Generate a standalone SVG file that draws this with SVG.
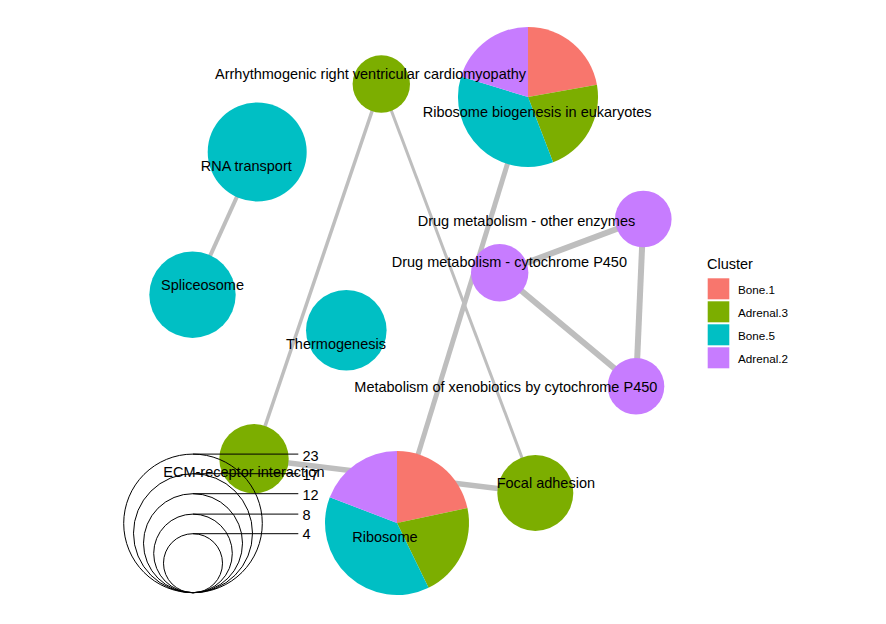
<svg xmlns="http://www.w3.org/2000/svg" width="886" height="624" viewBox="0 0 886 624">
<style>
.e{stroke:#bebebe;fill:none;stroke-linecap:butt}
.lab{font-family:"Liberation Sans",Arial,sans-serif;font-size:14.5px;fill:#000}
.key{font-family:"Liberation Sans",Arial,sans-serif;font-size:11.7px;fill:#000}
.c1{fill:#F8766D}.c2{fill:#7CAE00}.c3{fill:#00BFC4}.c4{fill:#C77CFF}
.lg{fill:none;stroke:#000;stroke-width:1}
</style>
<rect width="886" height="624" fill="#fff"/>
<g id="edges">
<line class="e" x1="257.2" y1="152" x2="192.5" y2="294.7" stroke-width="4"/>
<line class="e" x1="381.3" y1="84" x2="254" y2="458.7" stroke-width="3.5"/>
<line class="e" x1="381.3" y1="84" x2="535.3" y2="493" stroke-width="3"/>
<line class="e" x1="528" y1="97" x2="397" y2="523" stroke-width="5"/>
<line class="e" x1="254" y1="458.7" x2="535.3" y2="493" stroke-width="5.5"/>
<line class="e" x1="499.7" y1="272.8" x2="643.3" y2="219" stroke-width="6"/>
<line class="e" x1="499.7" y1="272.8" x2="636" y2="386.3" stroke-width="6"/>
<line class="e" x1="643.3" y1="219" x2="636" y2="386.3" stroke-width="6"/>
</g>
<g id="node-arrhythmogenic"><circle class="c2" cx="381.3" cy="84" r="28.7"/></g>
<g id="node-rna-transport"><circle class="c3" cx="257.2" cy="152" r="49.5"/></g>
<g id="node-spliceosome"><circle class="c3" cx="192.5" cy="294.7" r="43.2"/></g>
<g id="node-thermogenesis"><circle class="c3" cx="346.3" cy="330.3" r="40.3"/></g>
<g id="node-drug-other"><circle class="c4" cx="643.3" cy="219" r="28.3"/></g>
<g id="node-drug-cyp"><circle class="c4" cx="499.7" cy="272.8" r="28.7"/></g>
<g id="node-xenobiotics"><circle class="c4" cx="636" cy="386.3" r="28.3"/></g>
<g id="node-ecm"><circle class="c2" cx="254" cy="458.7" r="34.7"/></g>
<g id="node-focal-adhesion"><circle class="c2" cx="535.3" cy="493" r="38"/></g>
<g id="node-ribosome-biogenesis">
<path class="c1" d="M528,97 L528,27 A70,70 0 0 1 596.94,84.85 Z"/>
<path class="c2" d="M528,97 L596.94,84.85 A70,70 0 0 1 553.09,162.35 Z"/>
<path class="c3" d="M528,97 L553.09,162.35 A70,70 0 0 1 461.06,76.53 Z"/>
<path class="c4" d="M528,97 L461.06,76.53 A70,70 0 0 1 528,27 Z"/>
</g>
<g id="node-ribosome">
<path class="c1" d="M397,523 L397,451 A72,72 0 0 1 467.43,508.03 Z"/>
<path class="c2" d="M397,523 L467.43,508.03 A72,72 0 0 1 428.56,587.71 Z"/>
<path class="c3" d="M397,523 L428.56,587.71 A72,72 0 0 1 329.78,497.2 Z"/>
<path class="c4" d="M397,523 L329.78,497.2 A72,72 0 0 1 397,451 Z"/>
</g>
<g id="labels">
<text class="lab" x="215" y="79.3">Arrhythmogenic right ventricular cardiomyopathy</text>
<text class="lab" x="422.7" y="116.7">Ribosome biogenesis in eukaryotes</text>
<text class="lab" x="200.7" y="171">RNA transport</text>
<text class="lab" x="161" y="290">Spliceosome</text>
<text class="lab" x="417.7" y="225.7">Drug metabolism - other enzymes</text>
<text class="lab" x="391.7" y="267.3">Drug metabolism - cytochrome P450</text>
<text class="lab" x="286" y="349">Thermogenesis</text>
<text class="lab" x="354.3" y="392.3">Metabolism of xenobiotics by cytochrome P450</text>
<text class="lab" x="163.3" y="477.3">ECM-receptor interaction</text>
<text class="lab" x="496.7" y="487.7">Focal adhesion</text>
<text class="lab" x="352.3" y="541.7">Ribosome</text>
</g>
<g id="size-legend">
<circle class="lg" cx="193" cy="523.4" r="69.3"/>
<circle class="lg" cx="193" cy="533.2" r="59.5"/>
<circle class="lg" cx="193" cy="543.2" r="49.5"/>
<circle class="lg" cx="193" cy="553.4" r="39.3"/>
<circle class="lg" cx="193" cy="563.2" r="29.5"/>
<line class="lg" x1="193" y1="454.1" x2="298.3" y2="454.1"/>
<line class="lg" x1="193" y1="473.7" x2="298.3" y2="473.7"/>
<line class="lg" x1="193" y1="493.7" x2="298.3" y2="493.7"/>
<line class="lg" x1="193" y1="514.1" x2="298.3" y2="514.1"/>
<line class="lg" x1="193" y1="533.7" x2="298.3" y2="533.7"/>
<text class="lab" x="302.5" y="460.5">23</text>
<text class="lab" x="302.5" y="479.5">17</text>
<text class="lab" x="302.5" y="499.5">12</text>
<text class="lab" x="302.5" y="519.8">8</text>
<text class="lab" x="302.5" y="539.3">4</text>
</g>
<g id="cluster-legend">
<text class="lab" x="707" y="269">Cluster</text>
<rect class="c1" x="707.7" y="278.3" width="21.6" height="21"/>
<rect class="c2" x="707.7" y="301.3" width="21.6" height="21"/>
<rect class="c3" x="707.7" y="324.3" width="21.6" height="21"/>
<rect class="c4" x="707.7" y="347.3" width="21.6" height="21"/>
<text class="key" x="738" y="294">Bone.1</text>
<text class="key" x="738" y="317">Adrenal.3</text>
<text class="key" x="738" y="340">Bone.5</text>
<text class="key" x="738" y="363">Adrenal.2</text>
</g>
</svg>
